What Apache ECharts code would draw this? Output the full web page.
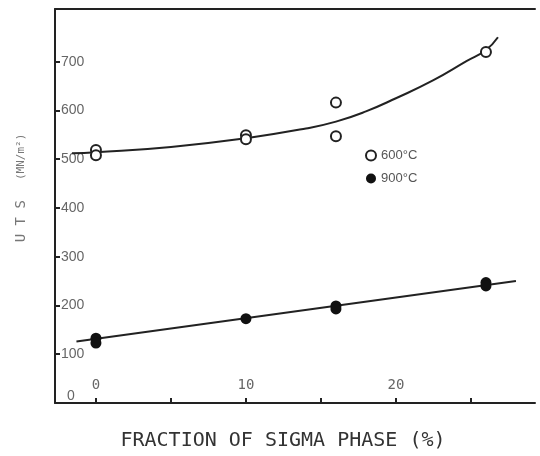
<!DOCTYPE html>
<html>
<head>
<meta charset="utf-8">
<script src="https://cdn.jsdelivr.net/npm/echarts@6/dist/echarts.min.js"></script>
<style>html,body{margin:0;padding:0;background:#fff}#c{width:540px;height:456px}</style>
</head>
<body>
<div id="c"></div>
<script>
// Data
var xTickValues = [0, 5, 10, 15, 20, 25];
var xLabelValues = [0, 10, 20];
var yTickValues = [100, 200, 300, 400, 500, 600, 700];
var yLabelValues = [0, 100, 200, 300, 400, 500, 600, 700];

var pts600 = [[0, 519], [0, 508], [10, 549], [10, 541], [16, 616], [16, 547], [26, 720]];
var pts900 = [[0, 133], [0, 123], [10, 173], [16, 199], [16, 193], [26, 247], [26, 240]];

var fit600 = [[-1.6, 512], [0, 514], [5, 525], [10, 543], [14, 563], [16, 577], [18, 598], [20, 625], [22.5, 662], [24.7, 701], [26, 724], [26.8, 750]];
var fit900 = [[-1.3, 126], [28, 250]];

var chart = echarts.init(document.getElementById('c'));
var axisCol = '#222';
var labCol = '#666';
chart.setOption({
  animation: false,
  backgroundColor: '#fff',
  grid: {left: 55, right: 5, top: 9, bottom: 51},
  legend: {
    orient: 'vertical', left: 360, top: 144, itemGap: 10,
    itemWidth: 10, itemHeight: 10, icon: 'circle',
    textStyle: {color: '#555', fontSize: 13, fontFamily: 'Liberation Sans'},
    data: [
      {name: '600°C', itemStyle: {color: '#fff', borderColor: '#222', borderWidth: 2}},
      {name: '900°C', itemStyle: {color: '#111', borderWidth: 0}}
    ]
  },
  xAxis: [{
    type: 'value', min: -2.73, max: 29.27, position: 'bottom',
    splitLine: {show: false},
    axisLine: {show: true, onZero: false, lineStyle: {color: axisCol, width: 2}},
    axisTick: {show: true, inside: true, length: 5, customValues: xTickValues, lineStyle: {color: axisCol, width: 2}},
    axisLabel: {inside: true, margin: 11, customValues: xLabelValues, color: labCol, fontSize: 14, fontFamily: 'DejaVu Sans Mono'},
    name: 'FRACTION OF SIGMA PHASE (%)', nameLocation: 'middle', nameGap: 28,
    nameTextStyle: {color: '#333', fontSize: 20, fontFamily: 'DejaVu Sans Mono', padding: [0, 24, 0, 0]}
  }, {
    type: 'value', min: -2.73, max: 29.27, position: 'top',
    splitLine: {show: false},
    axisLine: {show: true, onZero: false, lineStyle: {color: axisCol, width: 2}},
    axisTick: {show: false}, axisLabel: {show: false}
  }],
  yAxis: {
    type: 'value', min: 0, max: 808,
    splitLine: {show: false},
    axisLine: {show: true, onZero: false, lineStyle: {color: axisCol, width: 2}},
    axisTick: {show: true, inside: true, length: 5, customValues: yTickValues, lineStyle: {color: axisCol, width: 2}},
    axisLabel: {
      inside: true, margin: 6, customValues: yLabelValues, color: labCol, fontSize: 14, fontFamily: 'Liberation Sans',
      formatter: function (v) { return v === 0 ? '{z|0}' : String(v); },
      rich: {z: {color: labCol, fontSize: 14, fontFamily: 'Liberation Sans', padding: [0, 0, 14, 6]}}
    }
  },
  graphic: [{
    type: 'text', x: 21, y: 188, rotation: Math.PI / 2,
    style: {
      text: '{a|U T S}      {b|(MN/m²)}', align: 'center', verticalAlign: 'middle',
      rich: {
        a: {fontSize: 14, fontFamily: 'DejaVu Sans Mono', fill: '#777'},
        b: {fontSize: 11, fontFamily: 'DejaVu Sans Mono', fill: '#777'}
      }
    }
  }],
  series: [
    {name: 'fit600', type: 'line', data: fit600, smooth: true, showSymbol: false, silent: true,
     lineStyle: {color: '#222', width: 2}, z: 1},
    {name: 'fit900', type: 'line', data: fit900, showSymbol: false, silent: true,
     lineStyle: {color: '#222', width: 2}, z: 1},
    {name: '600°C', type: 'scatter', data: pts600, symbol: 'circle', symbolSize: 10,
     itemStyle: {color: '#fff', borderColor: '#222', borderWidth: 2, opacity: 1}, z: 3},
    {name: '900°C', type: 'scatter', data: pts900, symbol: 'circle', symbolSize: 11,
     itemStyle: {color: '#111', opacity: 1}, z: 3}
  ]
});
</script>
</body>
</html>
